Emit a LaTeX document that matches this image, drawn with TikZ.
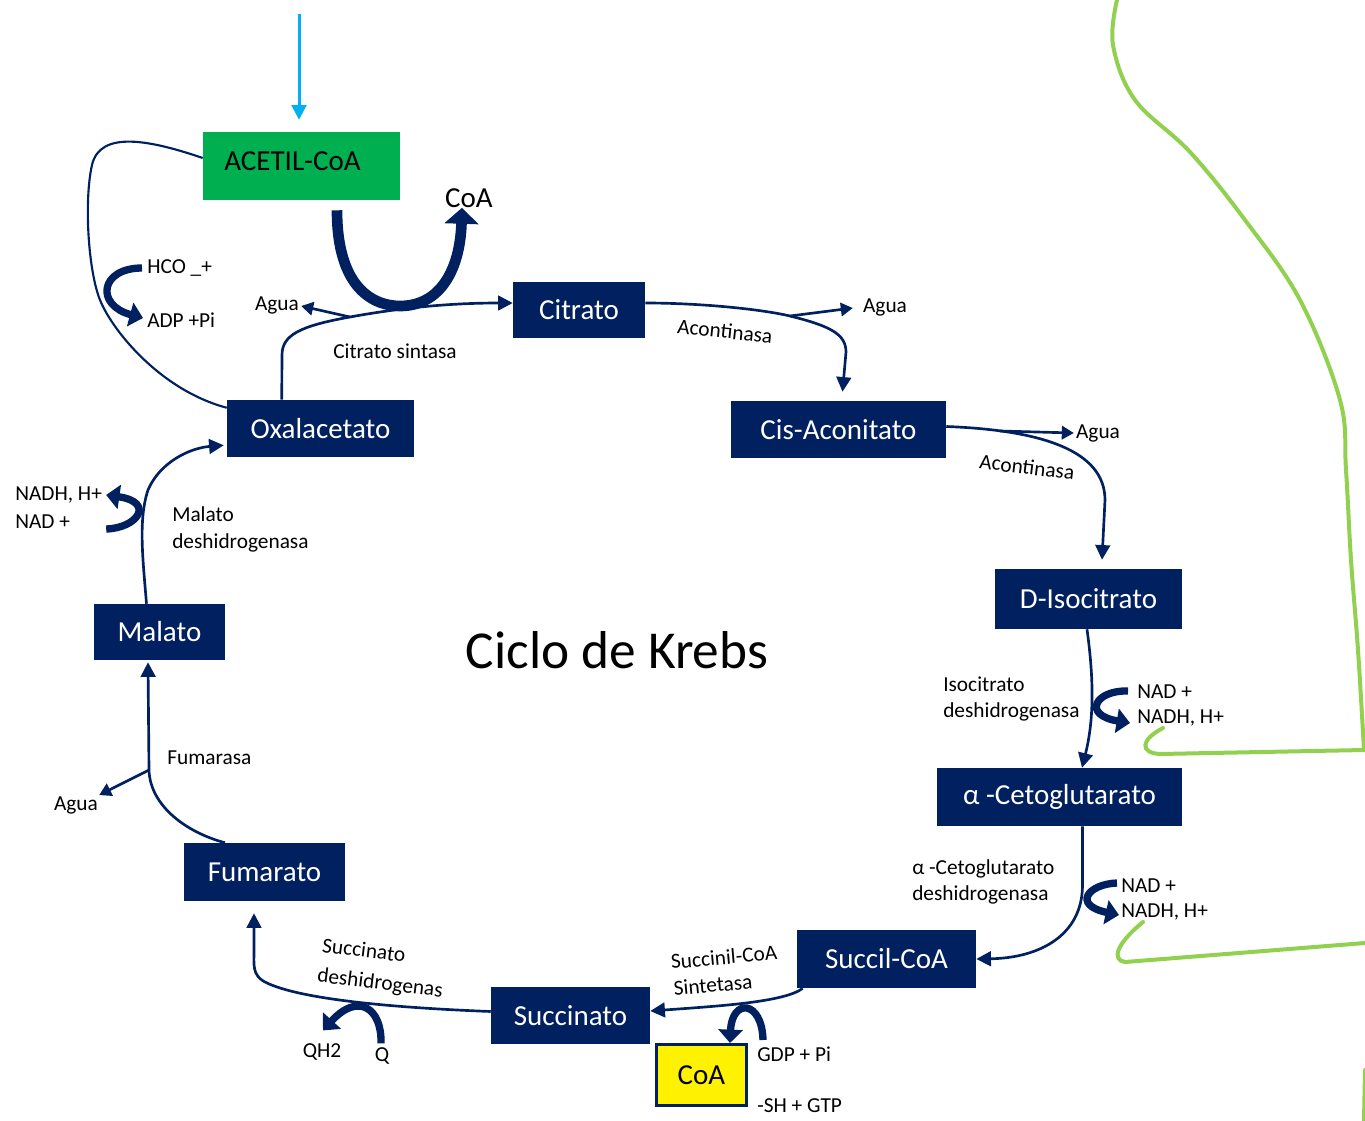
\documentclass[tikz,border=0pt]{standalone}
\usepackage{fontspec}
\setmainfont{Carlito}
\usetikzlibrary{arrows.meta,calc}
\definecolor{navy}{HTML}{002060}
\definecolor{agreen}{HTML}{00B050}
\definecolor{lblue}{HTML}{00B0F0}
\definecolor{lgreen}{HTML}{92D050}
\begin{document}
\begin{tikzpicture}[x=0.75pt,y=-0.75pt,
  box/.style={fill=navy,text=white,inner sep=0pt,font=\fontsize{21.75}{26}\selectfont},
  lbl/.style={font=\fontsize{16}{20}\selectfont,inner sep=0pt,align=left},
  conn/.style={navy,line width=2pt},
  tipa/.style={-{Triangle[length=11pt,width=11pt]}},
  tipb/.style={-{Triangle[length=9pt,width=10pt]}},
  fat/.style={navy,line width=5.5pt,-{Triangle[length=10pt,width=18pt]}},
  gline/.style={lgreen,line width=3pt,line cap=round}]
\useasboundingbox (0,0) rectangle (1365,1121);

% ---------- boxes ----------
\node[fill=agreen,inner sep=0pt,minimum width=147.75pt,minimum height=51pt,text depth=7.5pt,font=\fontsize{21.75}{26}\selectfont] (acetil) at (301.5,166) {ACETIL-CoA\hspace*{13.5pt}};
\node[box,minimum width=99pt,minimum height=42pt] (cit) at (579,310) {Citrato};
\node[box,minimum width=140.25pt,minimum height=42.75pt] (oxa) at (320.5,428.5) {Oxalacetato};
\node[box,minimum width=161.25pt,minimum height=42.75pt] (cis) at (838.5,429.5) {Cis-Aconitato};
\node[box,minimum width=140.25pt,minimum height=45pt] (dis) at (1088.5,599) {D-Isocitrato};
\node[box,minimum width=183.75pt,minimum height=43.5pt] (aceto) at (1059.5,797) {α -Cetoglutarato};
\node[box,minimum width=134.25pt,minimum height=43.5pt] (succ) at (886.5,959) {Succil-CoA};
\node[box,minimum width=119.25pt,minimum height=42.75pt] (sn) at (570.5,1015.5) {Succinato};
\node[fill=yellow,draw=navy,line width=2.25pt,inner sep=0pt,minimum width=67.5pt,minimum height=45.75pt,font=\fontsize{21.75}{26}\selectfont] (coa) at (701.5,1075) {CoA};
\node[box,minimum width=120.75pt,minimum height=43.5pt] (fum) at (264.5,872) {Fumarato};
\node[box,minimum width=98.25pt,minimum height=42pt] (mal) at (159.5,632) {Malato};

\node[font=\fontsize{40}{48}\selectfont,inner sep=0pt] (title) at (617,650) {Ciclo de Krebs};
\node[font=\fontsize{21.75}{26}\selectfont,inner sep=0pt] (coalbl) at (469,198) {CoA};

% ---------- labels ----------
\node[lbl] (agua1) at (277,305) {Agua};
\node[lbl] (agua2) at (885,307) {Agua};
\node[lbl] (agua3) at (1098,433) {Agua};
\node[lbl] (agua4) at (76,805) {Agua};
\node[lbl] (cs) at (395,351) {Citrato sintasa};
\node[lbl,rotate=-6] (ac1) at (725,331) {Acontinasa};
\node[lbl,rotate=-7] (ac2) at (1027,467) {Acontinasa};
\node[lbl,anchor=west] (hco) at (147,268) {HCO \_+};
\node[lbl,anchor=west] (adp) at (147,320) {ADP +Pi};
\node[lbl,anchor=west] (idh) at (943,699) {Isocitrato\\deshidrogenasa};
\node[lbl,anchor=west] (nad1) at (1137,692) {NAD +};
\node[lbl,anchor=west] (nadh1) at (1137,718) {NADH, H+};
\node[lbl,anchor=west] (kdh) at (912,882) {α -Cetoglutarato\\deshidrogenasa};
\node[lbl,anchor=west] (nad2) at (1121,886) {NAD +};
\node[lbl,anchor=west] (nadh2) at (1121,912) {NADH, H+};
\node[lbl,rotate=5] (scs1) at (724,957) {Succinil-CoA};
\node[lbl,rotate=5] (scs2) at (713,985) {Sintetasa};
\node[lbl,anchor=west] (gdp) at (757,1054) {GDP + Pi};
\node[lbl,anchor=west] (gtp) at (757,1106) {-SH + GTP};
\node[lbl,rotate=-7] (sdh1) at (364,950) {Succinato};
\node[lbl,rotate=-7] (sdh2) at (380,984) {deshidrogenas};
\node[lbl] (qh2) at (322,1052) {QH2};
\node[lbl] (q) at (382,1056) {Q};
\node[lbl,anchor=west] (fumasa) at (167,758) {Fumarasa};
\node[lbl,anchor=west] (mdh) at (172,529.5) {Malato\\deshidrogenasa};
\node[lbl,anchor=west] (nadh3) at (15,495) {NADH, H+};
\node[lbl,anchor=west] (nad3) at (15,522) {NAD +};

% ---------- input arrow ----------
\coordinate (src) at (299,14);
\draw[lblue,line width=2.25pt,-{Triangle[length=11pt,width=11pt]}] (src) -- ($(acetil.north)+(-2.5,-12)$);

% ---------- loop Oxalacetato - ACETIL-CoA ----------
\draw[navy,line width=1.6pt] ($(acetil.west)+(0,-8)$) .. controls (150,140) and (100,130) .. (92,165)
   .. controls (84,200) and (88,270) .. (100,300)
   .. controls (112,330) and (160,390) .. ($(oxa.north west)+(0,8)$);
\draw[fat] ($(hco.west)+(-5,0)$) .. controls (100,268) and (95,305) .. ($(adp.west)+(-4,-2)$);

% ---------- CoA U arrow ----------
\draw[navy,line width=8pt,-{Triangle[length=12pt,width=25pt]}] ($(acetil.south)+(35.5,10)$) .. controls (337,290) and (375,306) .. (400,306) .. controls (440,306) and (460,270) .. ($(coalbl.south)+(-7,0)$);

% ---------- Oxalacetato -> Citrato ----------
\coordinate (b1) at (350,317);
\draw[conn,tipa] ($(oxa.north west)+(55,0)$) -- (282,355) .. controls (282,335) and (300,326) .. (b1)
   .. controls (410,306) and (460,303) .. ($(cit.west)+(0,-7)$);
\draw[conn,tipb] (b1) -- ($(agua1.east)+(2,1)$);

% ---------- Citrato -> Cis-Aconitato ----------
\coordinate (b2) at (790,316);
\draw[conn,tipa] ($(cit.east)+(0,-7)$) .. controls (700,303) and (760,309) .. (b2)
   .. controls (830,326) and (846,334) .. (846,352) -- ($(cis.north)+(4,-9)$);
\draw[conn,tipb] (b2) -- ($(agua2.west)+(-10,1)$);

% ---------- Cis-Aconitato -> D-Isocitrato ----------
\coordinate (b3) at (1000,431);
\draw[conn,tipa] ($(cis.east)+(0,-3)$) .. controls (1040,430) and (1105,450) .. (1105,500) -- ($(dis.north)+(13.5,-9)$);
\draw[conn,tipb] (b3) -- ($(agua3.west)+(-2,0)$);

% ---------- D-Isocitrato -> alpha-Cetoglutarato ----------
\draw[conn,tipa] ($(dis.south)+(-1.5,0)$) .. controls (1094,680) and (1094,720) .. ($(aceto.north)+(22.5,0)$);
\draw[fat] ($(nad1.west)+(-9,-1)$) .. controls (1095,690) and (1082,715) .. ($(nadh1.west)+(-7,5)$);

% ---------- alpha-Cetoglutarato -> Succil-CoA ----------
\draw[conn,tipa] ($(aceto.south)+(23,0)$) -- (1082.5,885) .. controls (1082.5,935) and (1040,958) .. (succ.east);
\draw[fat] ($(nad2.west)+(-4,-3)$) .. controls (1088,884) and (1072,905) .. ($(nadh2.west)+(-2,3)$);

% ---------- Succil-CoA -> Succinato ----------
\draw[conn,tipa] ($(succ.south west)+(6,0)$) .. controls (785,1002) and (720,1006) .. ($(sn.east)+(0,-4.5)$);
\draw[fat] (763,1040) .. controls (762,1000) and (732,998) .. ($(coa.north)+(28.5,0)$);

% ---------- Succinato -> Fumarato ----------
\draw[conn,tipa] ($(sn.west)+(0,-4)$) .. controls (400,1008) and (300,1000) .. (265,982)
   .. controls (252,975) and (254,965) .. (254,950) -- ($(fum.south)+(-10.5,12)$);
\draw[fat] ($(q.north)+(-1,-4)$) .. controls (382,1008) and (358,992) .. ($(qh2.north)+(1,-13)$);

% ---------- Fumarato -> Malato ----------
\coordinate (b4) at (149,770);
\draw[conn,tipa] ($(fum.north)+(-39.5,0)$) .. controls (185,832) and (150,805) .. (b4) -- ($(mal.south)+(-11.5,2)$);
\draw[conn,tipb] (b4) -- ($(agua4.north east)+(1,-1)$);

% ---------- Malato -> Oxalacetato ----------
\draw[conn,tipa] ($(mal.north)+(-13,0)$) .. controls (143,560) and (138,520) .. (148,490)
   .. controls (160,462) and (190,448) .. ($(oxa.south west)+(-3,-12)$);
\draw[fat] ($(nad3.east)+(36,7)$) .. controls (138,528) and (155,502) .. ($(nadh3.east)+(4,0)$);

% ---------- green lines ----------
\draw[gline] plot[smooth,tension=0.6] coordinates {(1117,0) (1113,45) (1135,100) (1190,152) (1245,220) (1300,300) (1340,400) (1346,470) (1351,560) (1358,650) (1364,750)}
   -- (1160,754) .. controls (1140,753) and (1140,740) .. ($(nadh1.west)+(26,10)$);
\draw[gline] (1365,943) -- (1125,962) .. controls (1112,960) and (1115,945) .. ($(nadh2.west)+(22,10)$);
\draw[gline] (1365,1070) -- (1364,1121);
\end{tikzpicture}
\end{document}
